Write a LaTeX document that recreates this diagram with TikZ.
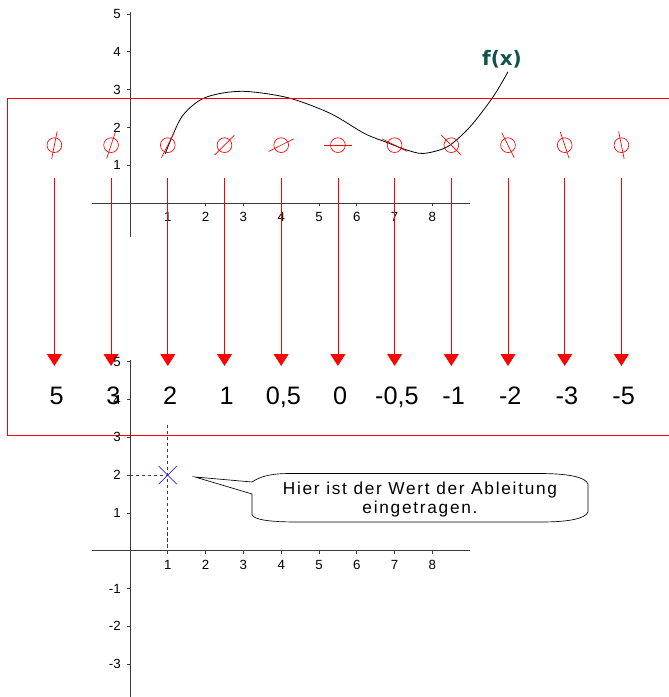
\documentclass[tikz,border=0pt]{standalone}
\usepackage{fontspec}
\setmainfont{Liberation Sans}
\newfontfamily\fxfont{DejaVu Sans}
\newfontfamily\notefont[LetterSpace=10]{Liberation Sans}
\usetikzlibrary{arrows.meta}
\definecolor{fxteal}{RGB}{16,82,78}
\definecolor{axisgray}{RGB}{60,60,60}
\definecolor{markblue}{RGB}{40,40,255}
\tikzset{
  axis/.style={draw=axisgray,line width=0.6pt},
  ticklabel/.style={font=\fontsize{10}{12}\selectfont,inner sep=0pt},
  fcurve/.style={draw=black,line width=0.6pt},
  slopemark/.style={circle,draw=red,line width=0.5pt,minimum size=3.9mm,inner sep=0pt},
  slopebar/.style={draw=red,line width=0.5pt},
  vecarrow/.style={-{Triangle[length=3.1mm,width=3.9mm]},draw=red,line width=0.5pt,shorten <=0.87cm,shorten >=0.79cm},
  val/.style={font=\fontsize{19}{22}\selectfont,text height=13.6pt,text depth=0pt,inner sep=0pt,xshift=0.06cm},
  helpline/.style={draw=axisgray,line width=0.5pt,dash pattern=on 2.5pt off 2pt},
  callout/.style={draw=black,line width=0.5pt}
}

\begin{document}
\begin{tikzpicture}
  \useasboundingbox (-3.439,-13.069) rectangle (14.259,5.370);

  % Graph von f
  \draw[axis] (-1,0) -- (9,0);
  \draw[axis] (0,-0.9) -- (0,5.05);
  \foreach \k in {1,...,8} {
    \draw[axis] (\k,0) -- (\k,-0.08);
    \node[ticklabel] (tx\k) at (\k,-0.37) {\k};
  }
  \foreach \k in {1,...,5} {
    \draw[axis] (0,\k) -- (-0.08,\k);
    \node[ticklabel,anchor=east] (ty\k) at (-0.24,\k) {\k};
  }
  \draw[fcurve] plot[smooth] coordinates {(0.93,1.3) (1.35,2.25) (1.85,2.72) (2.4,2.9) (3.1,2.95) (4.2,2.78) (5.3,2.37) (6.2,1.84) (6.8,1.6) (7.3,1.41) (7.76,1.31) (8.4,1.49) (9.0,2.02) (9.6,2.8) (10.0,3.47)};
  \node[font=\fxfont\bfseries\fontsize{15}{17}\selectfont,text=fxteal] (fxlabel) at (9.84,3.81) {f(x)};

  % Steigungen
  \draw[red,line width=0.5pt] (14.4,2.778) -- (-3.254,2.778) -- (-3.254,-6.151) -- (14.4,-6.151);
  \node[slopemark] (c1) at (-2,1.53) {};
  \node[slopemark] (c2) at (-0.5,1.53) {};
  \node[slopemark] (c3) at (1,1.53) {};
  \node[slopemark] (c4) at (2.5,1.53) {};
  \node[slopemark] (c5) at (4,1.53) {};
  \node[slopemark] (c6) at (5.5,1.53) {};
  \node[slopemark] (c7) at (7,1.53) {};
  \node[slopemark] (c8) at (8.5,1.53) {};
  \node[slopemark] (c9) at (10,1.53) {};
  \node[slopemark] (c10) at (11.5,1.53) {};
  \node[slopemark] (c11) at (13,1.53) {};

  \draw[slopebar] (c1.center) ++(78.7:0.37) -- ++(258.7:0.74);
  \draw[slopebar] (c2.center) ++(71.6:0.37) -- ++(251.6:0.74);
  \draw[slopebar] (c3.center) ++(63.4:0.37) -- ++(243.4:0.74);
  \draw[slopebar] (c4.center) ++(45:0.37) -- ++(225:0.74);
  \draw[slopebar] (c5.center) ++(26.6:0.37) -- ++(206.6:0.74);
  \draw[slopebar] (c6.center) ++(0:0.37) -- ++(180:0.74);
  \draw[slopebar] (c7.center) ++(-26.6:0.37) -- ++(153.4:0.74);
  \draw[slopebar] (c8.center) ++(-45:0.37) -- ++(135:0.74);
  \draw[slopebar] (c9.center) ++(-63.4:0.37) -- ++(116.6:0.74);
  \draw[slopebar] (c10.center) ++(-71.6:0.37) -- ++(108.4:0.74);
  \draw[slopebar] (c11.center) ++(-78.7:0.37) -- ++(101.3:0.74);

  \node[val] (v1) at (-2,-5.10) {5};
  \node[val] (v2) at (-0.5,-5.10) {3};
  \node[val] (v3) at (1,-5.10) {2};
  \node[val] (v4) at (2.5,-5.10) {1};
  \node[val] (v5) at (4,-5.10) {0,5};
  \node[val] (v6) at (5.5,-5.10) {0};
  \node[val] (v7) at (7,-5.10) {-0,5};
  \node[val] (v8) at (8.5,-5.10) {-1};
  \node[val] (v9) at (10,-5.10) {-2};
  \node[val] (v10) at (11.5,-5.10) {-3};
  \node[val] (v11) at (13,-5.10) {-5};

  \draw[vecarrow] (c1.center) -- (c1.center |- v1.center);
  \draw[vecarrow] (c2.center) -- (c2.center |- v2.center);
  \draw[vecarrow] (c3.center) -- (c3.center |- v3.center);
  \draw[vecarrow] (c4.center) -- (c4.center |- v4.center);
  \draw[vecarrow] (c5.center) -- (c5.center |- v5.center);
  \draw[vecarrow] (c6.center) -- (c6.center |- v6.center);
  \draw[vecarrow] (c7.center) -- (c7.center |- v7.center);
  \draw[vecarrow] (c8.center) -- (c8.center |- v8.center);
  \draw[vecarrow] (c9.center) -- (c9.center |- v9.center);
  \draw[vecarrow] (c10.center) -- (c10.center |- v10.center);
  \draw[vecarrow] (c11.center) -- (c11.center |- v11.center);

  % Graph der Ableitung
  \begin{scope}[yshift=-9.2cm]
    \draw[axis] (-1,0) -- (9,0);
    \draw[axis] (0,-3.95) -- (0,5.04);
    \foreach \k in {1,...,8} {
      \draw[axis] (\k,0) -- (\k,-0.08);
      \node[ticklabel] (bx\k) at (\k,-0.38) {\k};
    }
    \foreach \k in {-3,-2,-1,1,2,3,4,5} {
      \draw[axis] (0,\k) -- (-0.08,\k);
      \node[ticklabel,anchor=east] (by\k) at (-0.24,\k) {\k};
    }
    \coordinate (mark) at (1,2);
    \draw[helpline] (1,3.33) -- (1,0);
    \draw[helpline] (0,2) -- (mark);
    \draw[markblue,line width=0.5pt] (mark) ++(-0.24,-0.24) -- ++(0.48,0.48)
      (mark) ++(-0.24,0.24) -- ++(0.48,-0.48);

    \draw[callout] (3.228,1.819) .. controls (3.5,2.0) and (3.8,2.044) .. (4.3,2.044)
      -- (10.8,2.044) .. controls (11.6,2.044) and (12.05,1.95) .. (12.116,1.766)
      -- (12.116,1.025) .. controls (12.05,0.85) and (11.6,0.761) .. (10.9,0.761)
      -- (4.4,0.761) .. controls (3.7,0.761) and (3.3,0.82) .. (3.228,0.946)
      -- (3.228,1.502) -- (1.72,1.951) -- cycle;
    \node[align=center,font=\notefont\fontsize{13}{14.3}\selectfont] (note) at (7.672,1.356)
      {Hier ist der Wert der Ableitung\\eingetragen.};
  \end{scope}
\end{tikzpicture}
\end{document}
